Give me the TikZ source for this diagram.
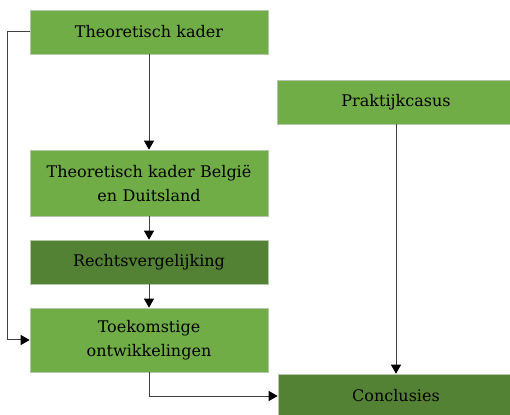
\documentclass[tikz,border=0pt]{standalone}
\usepackage{fontspec}
\setmainfont{DejaVu Serif}
\usepackage{tikz}
\usetikzlibrary{positioning, arrows.meta}
\definecolor{leafgreen}{HTML}{70AD47}
\definecolor{darkleaf}{HTML}{548235}
\definecolor{boxedge}{HTML}{B4C7A8}
\definecolor{linegray}{HTML}{404040}

\begin{document}
\begin{tikzpicture}[x=1pt, y=1pt,
    stage/.style={fill=leafgreen, draw=boxedge, line width=0.6pt,
        minimum width=238pt, minimum height=44pt, text width=230pt,
        align=center, inner sep=0pt, font=\fontsize{16}{24}\selectfont},
    keystage/.style={stage, fill=darkleaf},
    flow/.style={draw=linegray, line width=1pt,
        -{Triangle[width=10pt, length=9pt, color=black]}}]
  \useasboundingbox (0,0) rectangle (510,414);

  \node[stage] (kader) at (149,382) {Theoretisch kader};
  \node[stage, minimum height=66pt] (kaderbd) at (149,231)
    {Theoretisch kader België\\en Duitsland};
  \node[keystage] (vergelijking) at (149,152) {Rechtsvergelijking};
  \node[stage, minimum height=64pt] (toekomst) at (149,74)
    {Toekomstige\\ontwikkelingen};
  \node[stage] (casus) at (396,312) {Praktijkcasus};
  \node[keystage, minimum width=236pt] (conclusies) at (396,18) {Conclusies};

  \draw[flow] (kader.south) -- (kaderbd.north);
  \draw[flow] (kaderbd.south) -- (vergelijking.north);
  \draw[flow] (vergelijking.south) -- (toekomst.north);
  \draw[flow] (kader.west) -- ++(-22,0) |- (toekomst.west);
  \draw[flow] (toekomst.south) |- (conclusies.west);
  \draw[flow] (casus.south) -- (conclusies.north);
\end{tikzpicture}
\end{document}
